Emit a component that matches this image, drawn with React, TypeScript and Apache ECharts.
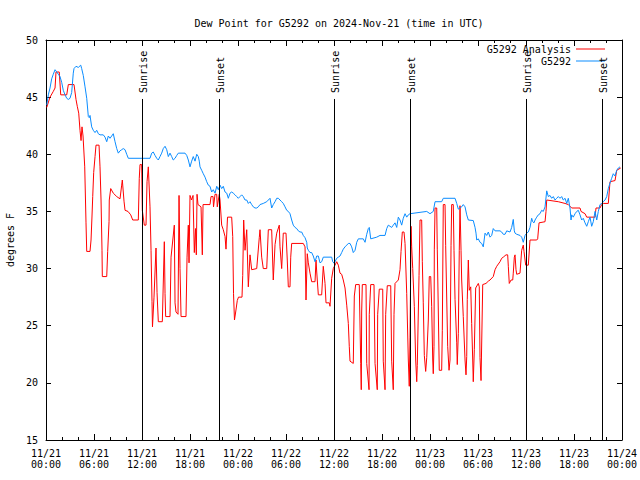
import React, { useEffect, useRef } from "react";
import * as echarts from "echarts";

const titleText = "Dew Point for G5292 on 2024-Nov-21 (time in UTC)";
const yAxisName = "degrees F";
const tickLabels = [
  "11/21\n00:00", "11/21\n06:00", "11/21\n12:00", "11/21\n18:00",
  "11/22\n00:00", "11/22\n06:00", "11/22\n12:00", "11/22\n18:00",
  "11/23\n00:00", "11/23\n06:00", "11/23\n12:00", "11/23\n18:00",
  "11/24\n00:00",
];
// hours since 11/21 00:00 UTC
const sunEvents: [string, number][] = [
  ["Sunrise", 12.04], ["Sunset", 21.66],
  ["Sunrise", 36.04], ["Sunset", 45.5],
  ["Sunrise", 60.04], ["Sunset", 69.54],
];
const sunLineTop = 44.84;

// [hours, degF]
const analysis: [number, number][] = [
  [0.09, 44.1], [0.5, 45.0], [0.91, 45.5], [1.13, 45.8], [1.25, 47.2], [1.66, 47.2], [1.84, 45.2], [2.59, 45.2],
  [2.79, 46.1], [3.5, 46.1], [3.75, 44.8], [3.91, 44.2], [4.09, 43.6], [4.25, 42.1], [4.38, 41.2], [4.5, 42.4],
  [4.63, 41.6], [4.84, 38.9], [5.0, 34.0], [5.09, 31.5], [5.5, 31.5], [5.63, 32.5], [5.75, 34.6], [5.84, 36.3],
  [5.96, 38.4], [6.13, 39.8], [6.25, 40.8], [6.63, 40.8], [6.75, 38.9], [6.88, 36.0], [7.0, 31.6], [7.04, 29.3],
  [7.59, 29.3], [7.71, 31.5], [7.88, 34.1], [7.91, 36.0], [8.09, 37.0], [8.41, 36.6], [8.84, 36.3], [9.25, 36.1],
  [9.46, 37.3], [9.54, 37.75], [9.75, 35.9], [9.88, 35.1], [10.25, 35.0], [10.59, 34.7], [10.84, 34.25], [11.54, 34.25],
  [11.66, 37.9], [11.75, 39.1], [11.96, 39.1], [12.04, 35.1], [12.29, 33.8], [12.5, 33.8], [12.63, 37.6], [12.79, 38.9],
  [13.0, 35.4], [13.13, 31.6], [13.25, 27.1], [13.31, 24.9], [13.38, 24.9], [13.5, 27.5], [13.75, 31.8], [13.88, 27.9],
  [14.04, 25.35], [14.54, 25.35], [14.79, 32.35], [14.88, 27.8], [14.96, 25.8], [15.5, 25.8], [15.63, 31.0], [16.04, 33.8],
  [16.13, 27.0], [16.25, 26.2], [16.5, 26.0], [16.63, 36.4], [16.75, 30.0], [16.88, 25.8], [17.5, 25.8], [17.63, 31.0],
  [17.79, 33.8], [17.88, 30.5], [18.0, 36.4], [18.19, 36.0], [18.38, 36.4], [18.54, 31.4], [18.69, 33.5], [18.79, 31.2],
  [18.88, 36.5], [19.0, 35.6], [19.38, 35.4], [19.54, 31.2], [19.63, 35.6], [20.5, 35.6], [20.63, 36.3], [20.88, 36.3],
  [20.94, 35.4], [21.13, 36.5], [21.34, 36.5], [21.41, 35.4], [21.66, 36.5], [21.75, 36.0], [21.96, 33.8], [22.16, 33.4],
  [22.38, 32.8], [22.5, 31.7], [22.69, 34.5], [23.21, 34.5], [23.34, 32.8], [23.44, 27.8], [23.56, 25.5], [23.71, 26.2],
  [23.91, 27.2], [24.06, 27.5], [24.5, 27.5], [24.59, 29.4], [24.71, 34.25], [24.88, 31.6], [25.09, 33.4], [25.29, 28.4],
  [25.5, 31.2], [25.71, 29.9], [26.34, 30.0], [26.66, 32.7], [26.75, 33.4], [26.96, 31.0], [27.16, 30.0], [27.59, 30.0],
  [27.79, 33.4], [28.21, 33.4], [28.41, 29.0], [28.63, 32.1], [28.84, 33.1], [29.16, 33.8], [29.25, 31.9], [29.46, 30.0],
  [29.66, 33.1], [30.0, 33.1], [30.16, 30.75], [30.29, 28.4], [30.5, 28.4], [30.59, 31.0], [30.71, 32.2], [32.16, 32.2],
  [32.38, 31.9], [32.5, 27.25], [32.66, 31.3], [32.79, 30.5], [33.0, 29.6], [33.21, 28.85], [33.63, 28.85], [33.75, 30.75],
  [33.84, 29.7], [34.04, 27.7], [34.46, 27.7], [34.66, 30.2], [34.88, 28.7], [35.0, 27.0], [35.41, 27.0], [35.5, 26.7],
  [35.71, 29.15], [35.91, 30.0], [36.34, 30.6], [36.54, 30.3], [36.75, 29.6], [36.96, 29.5], [37.16, 29.0], [37.38, 28.3],
  [37.59, 26.8], [37.79, 25.2], [37.91, 23.2], [38.0, 21.9], [38.41, 21.7], [38.54, 27.6], [38.71, 28.6], [39.16, 28.6],
  [39.34, 21.7], [39.41, 19.4], [39.46, 26.2], [39.54, 28.6], [40.0, 28.6], [40.09, 21.7], [40.38, 19.4], [40.41, 26.0],
  [40.59, 28.6], [41.0, 28.6], [41.13, 21.7], [41.41, 19.4], [41.46, 26.0], [41.66, 28.2], [42.09, 28.2], [42.16, 21.9],
  [42.38, 19.4], [42.46, 26.0], [42.66, 28.5], [43.09, 28.5], [43.21, 21.9], [43.41, 19.4], [43.5, 26.0], [43.63, 28.7],
  [44.04, 29.0], [44.25, 29.9], [44.38, 31.5], [44.54, 33.2], [44.75, 33.2], [44.88, 32.2], [45.09, 27.8], [45.29, 22.0],
  [45.41, 19.7], [45.5, 24.0], [45.59, 30.3], [45.63, 33.7], [45.71, 31.9], [45.84, 30.0], [45.91, 30.0], [46.04, 26.7],
  [46.21, 22.0], [46.34, 20.1], [46.41, 21.5], [46.63, 29.4], [46.75, 34.25], [46.96, 34.25], [47.04, 30.6], [47.16, 27.0],
  [47.29, 22.4], [47.46, 21.0], [47.59, 22.2], [47.79, 25.5], [47.91, 29.3], [48.09, 29.3], [48.21, 26.7], [48.34, 22.0],
  [48.41, 20.8], [48.5, 23.2], [48.54, 31.7], [48.63, 35.3], [48.84, 35.3], [48.91, 31.7], [49.04, 26.2], [49.16, 21.1],
  [49.46, 21.1], [49.54, 24.6], [49.66, 35.6], [49.88, 35.6], [49.96, 32.0], [50.21, 23.2], [50.38, 21.1], [50.5, 22.0],
  [50.63, 32.0], [50.71, 35.6], [50.91, 35.6], [51.0, 31.6], [51.13, 27.3], [51.34, 23.5], [51.41, 21.6], [51.54, 24.3],
  [51.66, 31.6], [51.75, 35.5], [51.88, 31.6], [51.96, 29.0], [52.16, 25.8], [52.38, 22.0], [52.5, 20.7], [52.59, 22.3],
  [52.66, 27.3], [52.79, 30.75], [52.91, 28.1], [53.09, 28.4], [53.21, 25.2], [53.34, 22.0], [53.41, 20.1], [53.54, 22.9],
  [53.71, 28.3], [54.04, 28.7], [54.16, 28.4], [54.25, 22.2], [54.38, 20.2], [54.46, 23.4], [54.59, 28.6], [55.0, 28.7],
  [55.29, 28.9], [55.5, 29.0], [55.91, 29.3], [56.13, 29.9], [56.34, 30.2], [56.75, 30.6], [56.96, 30.9], [57.16, 31.0],
  [57.5, 31.2], [57.71, 31.2], [57.79, 30.2], [57.91, 28.7], [58.13, 29.0], [58.34, 29.0], [58.41, 29.6], [58.54, 31.0],
  [58.63, 31.2], [58.75, 29.9], [58.84, 29.5], [59.25, 29.6], [59.46, 31.6], [59.66, 32.05], [59.75, 31.5], [59.88, 30.75],
  [59.96, 30.3], [60.29, 30.3], [60.5, 32.5], [61.34, 32.5], [61.46, 32.6], [61.63, 34.0], [62.38, 34.1], [62.5, 35.0],
  [62.59, 36.0], [64.04, 35.85], [64.88, 35.7], [65.29, 35.6], [65.71, 35.3], [66.75, 35.3], [66.88, 35.0], [67.38, 34.8],
  [67.59, 34.5], [68.63, 34.5], [68.75, 35.3], [69.25, 35.3], [69.46, 35.6], [69.66, 35.7], [70.29, 35.7], [70.5, 37.6],
  [71.13, 37.7], [71.34, 38.6], [71.84, 38.8],
];

const station: [number, number][] = [
  [0.09, 44.3], [0.29, 45.2], [0.5, 45.8], [0.71, 46.6], [0.91, 47.0], [1.13, 47.4], [1.34, 47.2], [1.54, 47.0],
  [1.75, 46.8], [1.96, 46.3], [2.16, 45.6], [2.38, 45.2], [2.59, 44.9], [2.79, 44.8], [3.0, 44.9], [3.21, 45.4],
  [3.41, 47.1], [3.5, 47.5], [3.75, 47.7], [4.04, 47.6], [4.34, 47.8], [4.46, 47.5], [4.66, 46.9], [4.88, 45.9],
  [5.09, 44.9], [5.29, 43.3], [5.41, 43.2], [5.5, 43.4], [5.71, 42.4], [5.91, 42.1], [6.13, 41.9], [6.34, 42.1],
  [6.54, 41.8], [6.75, 41.7], [7.16, 41.7], [7.38, 41.5], [7.59, 41.1], [7.79, 41.6], [8.0, 41.4], [8.21, 41.6],
  [8.41, 41.8], [8.63, 41.1], [8.84, 40.5], [9.04, 40.1], [9.25, 40.3], [9.46, 40.4], [9.66, 40.5], [9.88, 40.4],
  [10.09, 40.0], [10.29, 39.65], [13.0, 39.65], [13.21, 40.1], [13.41, 40.2], [13.63, 39.9], [13.84, 39.65], [14.04, 39.5],
  [14.25, 39.8], [14.46, 40.1], [14.66, 40.5], [14.88, 40.7], [15.09, 40.4], [15.29, 39.8], [15.5, 40.1], [15.71, 39.8],
  [15.91, 39.5], [16.13, 39.65], [16.34, 39.9], [16.54, 40.1], [17.38, 40.1], [17.59, 39.9], [17.79, 39.5], [18.0, 38.9],
  [18.21, 39.4], [18.41, 39.8], [18.63, 39.4], [18.84, 40.0], [19.04, 39.8], [19.16, 39.4], [19.25, 38.9], [19.46, 38.6],
  [19.66, 38.3], [19.88, 38.0], [20.09, 37.6], [20.29, 37.3], [20.5, 37.2], [20.71, 36.7], [20.91, 36.9], [21.13, 36.6],
  [21.34, 37.2], [21.54, 36.9], [21.75, 37.3], [21.96, 37.0], [22.16, 37.2], [22.38, 36.7], [22.59, 36.6], [22.79, 36.15],
  [23.0, 36.6], [23.21, 36.7], [23.41, 36.6], [23.63, 36.45], [23.84, 36.3], [24.04, 36.15], [24.25, 36.3], [24.46, 36.45],
  [24.66, 36.3], [24.88, 36.0], [25.09, 36.0], [25.29, 35.7], [25.5, 35.85], [25.71, 35.6], [25.91, 35.4], [26.13, 35.3],
  [26.34, 35.3], [26.54, 35.4], [26.75, 35.6], [27.16, 35.7], [27.59, 35.85], [27.79, 36.0], [28.0, 36.15], [28.21, 35.3],
  [28.41, 35.6], [28.63, 35.85], [28.84, 36.15], [29.04, 36.15], [29.25, 36.0], [29.46, 35.85], [29.66, 35.7], [29.88, 35.4],
  [30.09, 35.1], [30.29, 35.0], [30.5, 34.8], [30.71, 34.25], [30.91, 33.8], [31.13, 33.6], [31.34, 33.5], [31.54, 33.3],
  [31.75, 33.2], [31.96, 33.2], [32.16, 32.9], [32.38, 32.7], [32.59, 32.3], [32.66, 31.8], [32.79, 31.6], [33.0, 31.4],
  [33.21, 31.4], [33.41, 31.1], [33.63, 30.6], [33.84, 31.1], [34.04, 31.1], [34.25, 30.5], [34.46, 30.6], [34.66, 31.0],
  [35.71, 31.0], [35.84, 30.6], [36.04, 30.45], [36.13, 30.6], [36.34, 30.9], [36.54, 31.0], [36.75, 31.1], [36.96, 31.4],
  [37.16, 31.7], [37.38, 31.9], [37.59, 32.05], [37.79, 32.2], [38.0, 32.2], [38.21, 31.9], [38.41, 31.4], [38.63, 31.6],
  [38.84, 32.3], [39.04, 32.6], [39.66, 32.6], [39.88, 32.3], [40.09, 33.0], [40.29, 33.5], [40.41, 33.6], [40.59, 32.6],
  [41.34, 32.75], [41.75, 32.9], [42.38, 32.9], [42.59, 33.5], [42.79, 33.8], [43.21, 33.6], [43.41, 33.8], [43.63, 34.0],
  [43.84, 33.6], [44.04, 34.5], [44.25, 34.25], [44.46, 33.8], [44.66, 34.4], [44.88, 34.8], [45.09, 34.5], [45.29, 34.7],
  [45.5, 34.8], [47.59, 35.0], [48.0, 34.8], [48.41, 35.0], [48.63, 35.85], [49.46, 35.85], [49.66, 36.15], [51.13, 36.15],
  [51.34, 35.7], [51.54, 35.2], [51.75, 35.3], [51.96, 35.4], [52.16, 35.6], [52.38, 35.4], [52.59, 34.7], [52.79, 34.25],
  [53.41, 34.2], [53.63, 33.6], [53.75, 33.1], [53.84, 32.5], [54.04, 32.6], [54.25, 32.3], [54.46, 32.2], [54.66, 31.9],
  [54.88, 33.1], [55.09, 32.9], [55.29, 33.2], [55.5, 32.75], [55.71, 32.9], [55.91, 33.5], [56.13, 33.3], [56.75, 33.3],
  [56.96, 33.2], [57.16, 33.0], [57.38, 33.0], [57.59, 33.3], [58.0, 33.2], [58.21, 33.6], [58.41, 34.3], [58.54, 33.3],
  [58.63, 33.1], [58.84, 33.0], [59.25, 32.9], [59.46, 32.75], [59.66, 32.3], [59.88, 32.9], [60.09, 33.1], [60.29, 33.2],
  [60.5, 33.6], [60.71, 34.4], [60.84, 34.1], [61.0, 34.0], [61.13, 34.25], [61.34, 34.5], [61.54, 34.7], [61.75, 34.8],
  [61.96, 35.1], [62.16, 35.0], [62.38, 35.4], [62.59, 36.8], [62.79, 36.3], [63.0, 36.4], [63.21, 36.15], [63.41, 36.3],
  [63.63, 36.0], [63.84, 36.15], [64.04, 36.3], [64.25, 36.15], [64.46, 36.3], [64.66, 36.0], [64.88, 36.15], [65.09, 35.7],
  [65.29, 36.15], [65.5, 35.3], [65.63, 34.25], [65.71, 34.7], [65.91, 34.5], [66.13, 34.8], [66.34, 35.0], [66.54, 35.1],
  [66.75, 34.7], [66.96, 34.25], [67.16, 34.4], [67.38, 34.0], [67.59, 33.7], [67.79, 34.1], [68.0, 34.5], [68.21, 33.7],
  [68.41, 34.1], [68.63, 35.0], [68.84, 34.25], [69.04, 35.0], [69.25, 35.6], [69.46, 35.7], [69.66, 35.85], [69.88, 36.0],
  [70.09, 36.3], [70.29, 37.0], [70.5, 37.5], [70.71, 37.9], [70.91, 38.3], [71.13, 38.1], [71.34, 38.6], [71.54, 38.8],
  [71.75, 38.9],
];

const FONT = "'DejaVu Sans Mono', 'Liberation Mono', monospace";
const RED = "#ff0000";
const BLUE = "#0a8cff";

export default function App() {
  const ref = useRef<HTMLDivElement>(null);
  useEffect(() => {
    if (!ref.current) return;
    const chart = echarts.init(ref.current, undefined, { renderer: "svg" });
    const axisLineStyle = { lineStyle: { color: "#000", width: 1 } };
    const xCommon = {
      type: "value" as const,
      min: 0,
      max: 72,
      interval: 6,
      axisLine: { show: true, onZero: false, ...axisLineStyle },
      axisTick: { show: true, inside: true, length: 6, lineStyle: { color: "#000" } },
      minorTick: { show: true, splitNumber: 3, length: 3, lineStyle: { color: "#000" } },
      splitLine: { show: false },
    };
    const yCommon = {
      type: "value" as const,
      min: 15,
      max: 50,
      interval: 5,
      axisLine: { show: true, onZero: false, ...axisLineStyle },
      axisTick: { show: true, inside: true, length: 5, lineStyle: { color: "#000" } },
      splitLine: { show: false },
    };
    const option: any = {
      animation: false,
      backgroundColor: "#fff",
      title: {
        text: titleText,
        left: 334,
        top: 13,
        textAlign: "center",
        textStyle: { fontFamily: FONT, fontSize: 10, fontWeight: "normal", color: "#000" },
      },
      legend: {
        orient: "vertical",
        right: 30,
        top: 38,
        align: "right",
        itemWidth: 29,
        itemHeight: 1,
        itemGap: 0,
        icon: "rect",
        textStyle: { fontFamily: FONT, fontSize: 10, color: "#000", lineHeight: 12 },
        data: ["G5292 Analysis", "G5292"],
      },
      grid: { left: 46, right: 18, top: 40, bottom: 40, containLabel: false, outerBoundsMode: "none" },
      xAxis: [
        {
          ...xCommon,
          position: "bottom",
          axisLabel: {
            show: true,
            margin: 8,
            fontFamily: FONT,
            fontSize: 10,
            lineHeight: 11,
            color: "#000",
            showMinLabel: true,
            showMaxLabel: true,
            formatter: (v: number) => tickLabels[Math.round(v / 6)] ?? "",
          },
        },
        { ...xCommon, position: "top", axisLabel: { show: false } },
      ],
      yAxis: [
        {
          ...yCommon,
          position: "left",
          name: yAxisName,
          nameLocation: "middle",
          nameRotate: 90,
          nameGap: 31,
          nameTextStyle: { fontFamily: FONT, fontSize: 10, color: "#000" },
          axisLabel: { show: true, margin: 8, fontFamily: FONT, fontSize: 10, color: "#000" },
        },
        { ...yCommon, position: "right", axisLabel: { show: false } },
      ],
      series: [
        {
          name: "G5292 Analysis",
          type: "line",
          data: analysis,
          symbol: "none",
          showSymbol: false,
          color: RED,
          lineStyle: { color: RED, width: 1 },
          markLine: {
            silent: true,
            symbol: ["none", "none"],
            label: { show: false },
            lineStyle: { color: "#000", width: 1, type: "solid" },
            data: sunEvents.map(([, h]) => [{ coord: [h, sunLineTop] }, { coord: [h, 15] }]),
          },
        },
        {
          name: "G5292",
          type: "line",
          data: station,
          symbol: "none",
          showSymbol: false,
          color: BLUE,
          lineStyle: { color: BLUE, width: 1 },
        },
      ],
    };
    chart.setOption(option);
    const graphics = sunEvents.map(([label, h]) => {
      const p = chart.convertToPixel({ xAxisIndex: 0, yAxisIndex: 0 }, [h, sunLineTop]) as number[];
      return {
        type: "text",
        x: p[0] + 1,
        y: p[1] - 6,
        rotation: Math.PI / 2,
        style: {
          text: label,
          fontFamily: FONT,
          fontSize: 10,
          fill: "#000",
          align: "left",
          verticalAlign: "middle",
        },
        z: 10,
      };
    });
    chart.setOption({ graphic: graphics });
    return () => chart.dispose();
  }, []);
  return <div ref={ref} style={{ width: 640, height: 480, position: "absolute", left: 0, top: 0 }} />;
}
